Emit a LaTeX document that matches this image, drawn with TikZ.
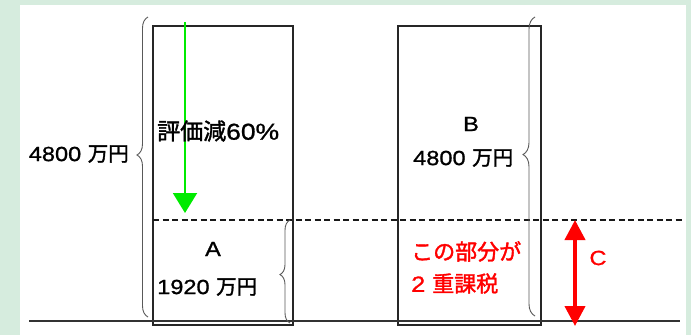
\documentclass[tikz,border=0pt]{standalone}
\usepackage{fontspec}
\setmainfont{Liberation Sans}[FakeStretch=1.15,FakeBold=1]
\newfontfamily\jp{Noto Sans CJK JP}[FakeBold=1.6]
\usetikzlibrary{decorations.pathreplacing,arrows.meta}
\definecolor{bgg}{RGB}{214,236,222}
\definecolor{arrg}{RGB}{0,235,0}
\definecolor{myred}{RGB}{255,0,0}
\begin{document}
\begin{tikzpicture}[x=1pt,y=-1pt,
  txt/.style={inner sep=0pt,font=\fontsize{20.5}{24}\selectfont},
  bigtxt/.style={inner sep=0pt,font=\fontsize{23}{26}\selectfont},
  redtxt/.style={inner sep=0pt,text=myred,align=left,font=\fontsize{22}{32}\selectfont},
  box/.style={draw=black!85,line width=1.3pt,inner sep=0pt},
  brc/.style={decorate,decoration={brace,amplitude=#1,aspect=0.54},draw=black!65,line width=0.9pt},
  brc/.default=11,
  garrow/.style={draw=arrg,line width=2pt,-{Triangle[width=24pt,length=20pt]}},
  rarrow/.style={draw=myred,line width=4pt,{Triangle[width=20pt,length=20pt]}-{Triangle[width=20pt,length=20pt]}}]
\useasboundingbox (0,0) rectangle (691,335);
\fill[bgg] (0,0) rectangle (691,335);
\fill[white] (20,5) rectangle (686,335);
% boxes
\node[box,minimum width=140pt,minimum height=299pt] (boxA) at (223,175.5) {};
\node[box,minimum width=143pt,minimum height=299pt] (boxB) at (469.5,175.5) {};
% baseline and dashed line
\coordinate (bl1) at (29,321);
\coordinate (bl2) at (680,321);
\draw[black!80,line width=1.6pt] (bl1) -- (bl2);
\coordinate (d1) at (153,220);
\coordinate (d2) at (682,220);
\draw[black!90,line width=2pt,dash pattern=on 6pt off 3.5pt] (d1) -- (d2);
% braces
\coordinate (br1a) at (148,317);
\coordinate (br1b) at (148,17);
\draw[brc] (br1a) -- (br1b);
\coordinate (br2a) at (290,323);
\coordinate (br2b) at (290,220);
\draw[decorate,decoration={brace,amplitude=10,aspect=0.47},draw=black!65,line width=0.9pt] (br2a) -- (br2b);
\coordinate (br3a) at (535,316);
\coordinate (br3b) at (535,17);
\draw[brc=12] (br3a) -- (br3b);
% arrows
\coordinate (g1) at (185,22);
\coordinate (g2) at (185,213);
\draw[garrow] (g1) -- (g2);
\coordinate (r1) at (575,220);
\coordinate (r2) at (575,326);
\draw[rarrow] (r1) -- (r2);
% texts
\node[txt,anchor=east] (t4800a) at (129,154) {4800 {\jp 万円}};
\node[bigtxt,anchor=west] (tgen) at (157,131) {{\jp 評価減}60\%};
\node[txt] (tA) at (213,249) {A};
\node[txt,anchor=west] (t1920) at (157,287) {1920 {\jp 万円}};
\node[txt] (tB) at (471,124) {B};
\node[txt,anchor=west] (t4800b) at (413,158) {4800 {\jp 万円}};
\node[redtxt,anchor=north west] (tred) at (411,241) {{\jp この部分が}\\2 {\jp 重課税}};
\node[txt,text=myred] (tC) at (598,258) {C};
\end{tikzpicture}
\end{document}
